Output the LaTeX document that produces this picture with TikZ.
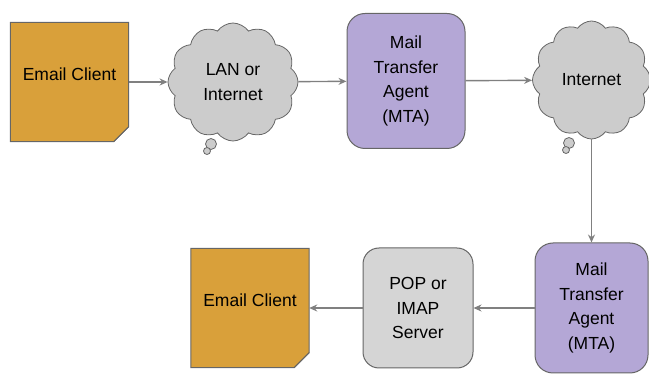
\documentclass[tikz,border=0pt]{standalone}
\usepackage{fontspec}
\setmainfont{Liberation Sans}
\usetikzlibrary{shapes.symbols, arrows.meta, backgrounds}

\definecolor{noteorange}{HTML}{D9A03A}
\definecolor{mtapurple}{HTML}{B4A7D6}
\definecolor{cloudgray}{HTML}{CCCCCC}
\definecolor{servergray}{HTML}{D5D5D5}
\definecolor{edgegray}{HTML}{666666}
\definecolor{flowgray}{HTML}{808080}

\tikzset{
  notebox/.style = {minimum width=118pt, minimum height=119pt, text depth=16pt, inner sep=0pt},
  netcloud/.style = {cloud, cloud puffs=12, cloud puff arc=110, draw=edgegray, fill=cloudgray,
    line width=0.8pt, align=center, inner sep=0pt},
  bubble/.style = {circle, draw=edgegray, fill=cloudgray, line width=0.8pt, inner sep=0pt},
  mtabox/.style = {rectangle, rounded corners=18pt, draw=edgegray, fill=mtapurple,
    line width=1pt, align=center, inner sep=0pt},
  serverbox/.style = {rectangle, rounded corners=16pt, draw=edgegray, fill=servergray,
    line width=1pt, align=center, inner sep=0pt},
  flow/.style = {draw=flowgray, line width=1.4pt, -{Stealth[length=8pt, width=7pt]}}
}

\newcommand\drawnote[1]{%
  \filldraw[draw=edgegray, fill=noteorange, line width=1pt]
    (#1.north west) -- (#1.north east) -- ([yshift=15pt]#1.south east)
    -- ([xshift=-15pt]#1.south east) -- (#1.south west) -- cycle;
  \filldraw[draw=edgegray, fill=noteorange!70!black, line width=0.8pt]
    ([xshift=-15pt]#1.south east) -- ([xshift=-4pt, yshift=11pt]#1.south east)
    -- ([yshift=15pt]#1.south east) -- cycle;
}

\begin{document}
\begin{tikzpicture}[x=1pt, y=-1pt, font=\fontsize{17.5}{24.5}\selectfont]
\useasboundingbox (0,0) rectangle (649,374);

% top row
\node[notebox] (client1) at (69.5,82) {Email Client};
\node[netcloud, minimum width=130pt, minimum height=118pt] (lan) at (233,82) {LAN or\\Internet};
\node[bubble, minimum size=11pt] (lanbub1) at (211,144) {};
\node[bubble, minimum size=7pt] (lanbub2) at (207,151) {};
\node[mtabox, minimum width=118pt, minimum height=135pt] (mta1) at (406,81) {Mail\\Transfer\\Agent\\(MTA)};
\node[netcloud, minimum width=118pt, minimum height=118pt] (net) at (591.5,80) {Internet};
\node[bubble, minimum size=11pt] (netbub1) at (569,143) {};
\node[bubble, minimum size=7pt] (netbub2) at (566,150) {};

% bottom row
\node[mtabox, minimum width=113pt, minimum height=130pt] (mta2) at (591.5,308) {Mail\\Transfer\\Agent\\(MTA)};
\node[serverbox, minimum width=110pt, minimum height=120pt] (pop) at (418,308) {POP or\\IMAP\\Server};
\node[notebox] (client2) at (250,308) {Email Client};

\begin{scope}[on background layer]
\drawnote{client1}
\drawnote{client2}
\end{scope}

% connectors
\draw[flow] (client1) -- (lan);
\draw[flow] (lan) -- (mta1);
\draw[flow] (mta1) -- (net);
\draw[flow] (net) -- (mta2);
\draw[flow] (mta2) -- (pop);
\draw[flow] (pop) -- (client2);
\end{tikzpicture}
\end{document}
